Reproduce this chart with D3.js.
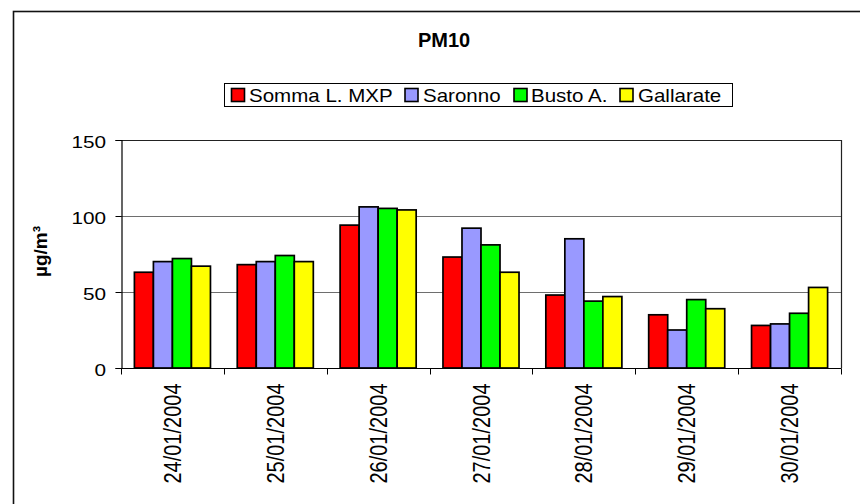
<!DOCTYPE html>
<html>
<head>
<meta charset="utf-8">
<script src="https://cdn.jsdelivr.net/npm/d3@7"></script>
<style>
  html, body { margin: 0; padding: 0; background: #fff; }
  svg { display: block; font-family: "Liberation Sans", Arial, sans-serif; }
</style>
</head>
<body>
<svg id="chart" width="860" height="504"></svg>
<script>
const categories = ["24/01/2004", "25/01/2004", "26/01/2004", "27/01/2004", "28/01/2004", "29/01/2004", "30/01/2004"];
const seriesNames = ["Somma L. MXP", "Saronno", "Busto A.", "Gallarate"];
const sommaValues = [63, 68, 94, 73, 48, 35, 28];
const saronnoValues = [70, 70, 106, 92, 85, 25, 29];
const bustoValues = [72, 74, 105, 81, 44, 45, 36];
const gallarateValues = [67, 70, 104, 63, 47, 39, 53];
const seriesColors = ["#ff0000", "#9999ff", "#00ff00", "#ffff00"];
const yTicks = [0, 50, 100, 150];
const chartTitle = "PM10";
const yTitle = "µg/m³";

const seriesValues = [sommaValues, saronnoValues, bustoValues, gallarateValues];

const svg = d3.select("#chart");
const plot = { left: 121, right: 841, top: 140, bottom: 368 };

// outer frame
svg.append("rect")
  .attr("x", 13.5).attr("y", 11.5)
  .attr("width", 870).attr("height", 520)
  .attr("fill", "none").attr("stroke", "#111").attr("stroke-width", 1.6);

// title
svg.append("text")
  .attr("x", 444).attr("y", 46.5)
  .attr("text-anchor", "middle")
  .attr("font-weight", "bold").attr("font-size", 20)
  .text(chartTitle);

const x0 = d3.scaleBand().domain(categories).range([plot.left, plot.right]).padding(0);
const groupInset = 13.4;
const x1 = d3.scaleBand().domain(seriesNames).range([groupInset, x0.bandwidth() - groupInset]).padding(0);
const y = d3.scaleLinear().domain([0, 150]).range([plot.bottom, plot.top]);

// gridlines
svg.append("g").selectAll("line").data(yTicks.filter(t => t > 0 && t < 150)).join("line")
  .attr("x1", plot.left).attr("x2", plot.right)
  .attr("y1", d => y(d) + 0.5).attr("y2", d => y(d) + 0.5)
  .attr("stroke", "#6e6e6e").attr("stroke-width", 1);

// plot border top/right
svg.append("path")
  .attr("d", `M${plot.left},${y(150) + 0.5}H${plot.right + 0.5}V${plot.bottom}`)
  .attr("fill", "none").attr("stroke", "#222").attr("stroke-width", 1.2);

// bars
const groups = svg.append("g").selectAll("g").data(categories).join("g")
  .attr("transform", d => `translate(${x0(d)},0)`);
groups.selectAll("rect")
  .data((c, i) => seriesNames.map((s, k) => ({ s, v: seriesValues[k][i], color: seriesColors[k] })))
  .join("rect")
  .attr("x", d => x1(d.s))
  .attr("y", d => y(d.v))
  .attr("width", x1.bandwidth())
  .attr("height", d => y(0) - y(d.v))
  .attr("fill", d => d.color)
  .attr("stroke", "#000").attr("stroke-width", 1.7);

// y axis
const yAxis = d3.axisLeft(y).tickValues(yTicks).tickSize(6).tickFormat("");
const yg = svg.append("g").attr("transform", `translate(${plot.left + 0.5},0)`).call(yAxis);
yg.select(".domain").attr("stroke", "#000").attr("stroke-width", 1.2);
yg.selectAll(".tick line").attr("stroke", "#000");
svg.append("g").selectAll("text").data(yTicks).join("text")
  .attr("transform", d => `translate(106,${y(d) + 8.3}) scale(1.2,1)`)
  .attr("text-anchor", "end")
  .attr("font-size", 17.3)
  .text(d => d);

// x axis with ticks at category boundaries
const xg = svg.append("g").attr("transform", `translate(0,${plot.bottom + 0.5})`);
xg.append("line").attr("x1", plot.left).attr("x2", plot.right + 0.5)
  .attr("stroke", "#000").attr("stroke-width", 1.2);
const boundaries = categories.map(c => x0(c)).concat([plot.right]);
xg.selectAll("line.tk").data(boundaries).join("line").attr("class", "tk")
  .attr("x1", d => Math.round(d) + 0.5).attr("x2", d => Math.round(d) + 0.5)
  .attr("y1", 0).attr("y2", 6).attr("stroke", "#000");
svg.append("g").selectAll("text").data(categories).join("text")
  .attr("transform", d => `translate(${x0(d) + x0.bandwidth() / 2 + 8.5},383.5) rotate(-90) scale(1,1.22)`)
  .attr("text-anchor", "end")
  .attr("font-size", 20)
  .text(d => d);

// y title
svg.append("text")
  .attr("transform", "translate(47,251.5) rotate(-90)")
  .attr("text-anchor", "middle")
  .attr("font-weight", "bold").attr("font-size", 19)
  .text(yTitle);

// legend
const legend = svg.append("g");
legend.append("rect")
  .attr("x", 224.5).attr("y", 83.5).attr("width", 508).attr("height", 23)
  .attr("fill", "#fff").attr("stroke", "#000").attr("stroke-width", 1);
const legendX = [231.5, 405, 514, 620];
const legendTextX = [249, 423, 531, 638];
const items = legend.selectAll("g").data(seriesNames).join("g");
items.append("rect")
  .attr("x", (d, i) => legendX[i]).attr("y", 88.5)
  .attr("width", 13).attr("height", 13)
  .attr("fill", (d, i) => seriesColors[i])
  .attr("stroke", "#000").attr("stroke-width", 1.6);
items.append("text")
  .attr("transform", (d, i) => `translate(${legendTextX[i]},101.5) scale(1.16,1)`)
  .attr("font-size", 17.7)
  .text(d => d);
</script>
</body>
</html>
